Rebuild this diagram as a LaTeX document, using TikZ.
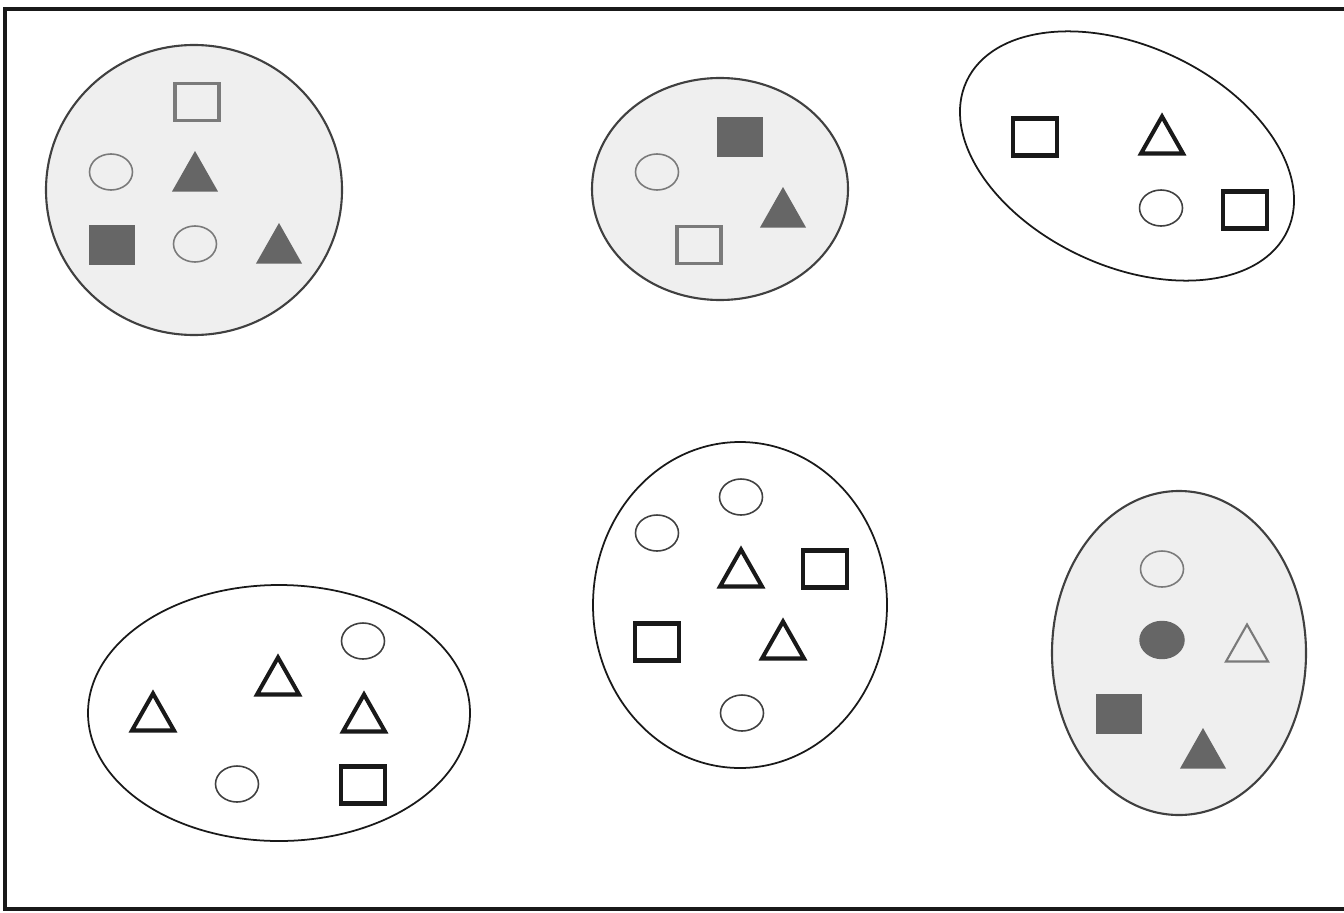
\documentclass[tikz,border=0pt]{standalone}
\usepackage{xcolor}
\usepackage{tikz}
\usetikzlibrary{calc}
\definecolor{grpfill}{HTML}{EFEFEF}
\definecolor{symgray}{HTML}{666666}
\definecolor{linegray}{HTML}{7A7A7A}
\tikzset{
  %% Group outlines
  grpgray/.style={draw=black!75, line width=1.2pt, fill=grpfill},
  grpwhite/.style={draw=black!90, line width=1.0pt, fill=white},
  %% Symbols
  solidsym/.style={fill=symgray, draw=symgray, line width=1.4pt, line join=miter},
  boldsym/.style={draw=black!90, line width=2.3pt, line join=miter},
  graysym/.style={draw=linegray, line width=2.1pt},
  thinsym/.style={draw=black!75, line width=0.9pt},
  thingray/.style={draw=linegray, line width=0.9pt},
  tri/.pic={\path[pic actions] (-21,18.5) -- (0,-18.5) -- (21,18.5) -- cycle;},
  box/.pic={\path[pic actions] (-22,-18.5) rectangle (22,18.5);},
  oval/.pic={\path[pic actions] (0,0) ellipse [x radius=21.5, y radius=18];},
}
\begin{document}
\begin{tikzpicture}[x=0.02cm, y=-0.02cm]

  \useasboundingbox (0,0) rectangle (1344,912);
  \fill[white] (0,0) rectangle (1344,912);
  \draw[black!90, line width=2pt] (5,9) rectangle (1352,909);

  %% Top row
  \draw[grpgray] (194,190) ellipse [x radius=148, y radius=145];
  \pic[graysym]  at (197,102) {box};
  \pic[thingray] at (111,172) {oval};
  \pic[solidsym] at (195,172) {tri};
  \pic[solidsym] at (112,245) {box};
  \pic[thingray] at (195,244) {oval};
  \pic[solidsym] at (279,244) {tri};

  \draw[grpgray] (720,189) ellipse [x radius=128, y radius=111];
  \pic[solidsym] at (740,137) {box};
  \pic[thingray] at (657,172) {oval};
  \pic[solidsym] at (783,208) {tri};
  \pic[graysym]  at (699,245) {box};

  \draw[grpwhite, rotate around={-25:(1127,156)}] (1127,156)
        ellipse [x radius=177, y radius=110];
  \pic[boldsym] at (1035,137) {box};
  \pic[boldsym] at (1162,135) {tri};
  \pic[thinsym] at (1161,208) {oval};
  \pic[boldsym] at (1245,210) {box};

  %% Bottom row
  \draw[grpwhite] (279,713) ellipse [x radius=191, y radius=128];
  \pic[boldsym] at (153,712) {tri};
  \pic[boldsym] at (278,676) {tri};
  \pic[thinsym] at (363,641) {oval};
  \pic[boldsym] at (364,713) {tri};
  \pic[thinsym] at (237,784) {oval};
  \pic[boldsym] at (363,785) {box};

  \draw[grpwhite] (740,605) ellipse [x radius=147, y radius=163];
  \pic[thinsym] at (741,497) {oval};
  \pic[thinsym] at (657,533) {oval};
  \pic[boldsym] at (741,568) {tri};
  \pic[boldsym] at (825,569) {box};
  \pic[boldsym] at (657,642) {box};
  \pic[boldsym] at (783,640) {tri};
  \pic[thinsym] at (742,713) {oval};

  \draw[grpgray] (1179,653) ellipse [x radius=127, y radius=162];
  \pic[thingray] at (1162,569) {oval};
  \pic[solidsym] at (1162,640) {oval};
  \pic[thingray, line width=1.2pt] at (1247,643) {tri};
  \pic[solidsym] at (1119,714) {box};
  \pic[solidsym] at (1203,749) {tri};

\end{tikzpicture}
\end{document}
